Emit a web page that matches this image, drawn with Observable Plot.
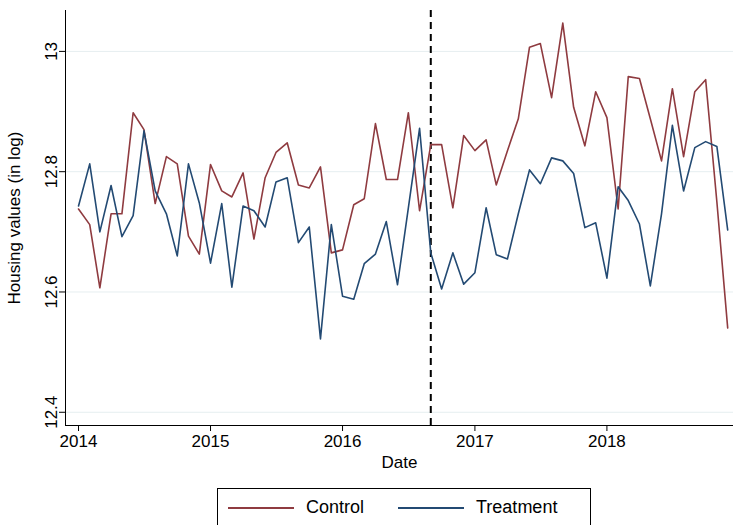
<!DOCTYPE html>
<html><head><meta charset="utf-8">
<script src="https://cdn.jsdelivr.net/npm/d3@7"></script>
<script src="https://cdn.jsdelivr.net/npm/@observablehq/plot@0.6"></script>
<style>
body{margin:0;background:#fff;font-family:"Liberation Sans",Arial,sans-serif;}
#legend{margin:18px 0 0 217px;width:372px;height:37px;border:1px solid #000;border-bottom:none;display:flex;align-items:center;font-size:18px;}
.it{display:flex;align-items:center;margin-left:10px;margin-right:24px}
.sw{width:66px;height:2px;margin-right:12px}
</style></head><body>
<div id="chart"></div>
<div id="legend">
<div class="it"><div class="sw" style="background:#8f3b40"></div>Control</div>
<div class="it"><div class="sw" style="background:#234a73"></div>Treatment</div>
</div>
<script>
const control = [12.738,12.712,12.607,12.73,12.73,12.898,12.87,12.747,12.825,12.813,12.693,12.663,
  12.812,12.768,12.758,12.798,12.688,12.79,12.832,12.848,12.778,12.773,12.808,12.665,
  12.67,12.745,12.755,12.88,12.787,12.787,12.898,12.735,12.845,12.845,12.74,12.86,
  12.835,12.853,12.778,12.835,12.888,13.007,13.013,12.923,13.047,12.907,12.843,12.933,
  12.89,12.738,12.958,12.955,12.888,12.818,12.938,12.825,12.933,12.953,12.75,12.54];
const treatment = [12.743,12.813,12.70,12.777,12.692,12.727,12.868,12.768,12.73,12.66,12.813,12.748,
  12.648,12.747,12.608,12.743,12.735,12.708,12.783,12.79,12.682,12.708,12.522,12.712,
  12.593,12.588,12.647,12.663,12.717,12.612,12.74,12.872,12.665,12.605,12.665,12.613,
  12.632,12.74,12.662,12.655,12.73,12.803,12.78,12.823,12.818,12.797,12.707,12.715,
  12.623,12.775,12.752,12.713,12.61,12.73,12.877,12.768,12.84,12.85,12.842,12.703];
const months = d3.utcMonth.range(new Date(Date.UTC(2014,0,1)), new Date(Date.UTC(2019,0,1)));
const yTicks = [12.4,12.6,12.8,13];
const xTicks = [2014,2015,2016,2017,2018].map(y => new Date(Date.UTC(y,0,1)));
const treatDate = new Date(Date.UTC(2016,8,1));

const rows = [];
months.forEach((m,i) => {
  rows.push({date:m, value:control[i], group:"Control"});
  rows.push({date:m, value:treatment[i], group:"Treatment"});
});

const chart = Plot.plot({
  width: 733, height: 470,
  marginLeft: 65, marginRight: 0, marginTop: 10, marginBottom: 45,
  style: {fontFamily: "Liberation Sans, Arial, sans-serif", fontSize: "17px", color: "#000"},
  x: {type: "utc", domain: [new Date(Date.UTC(2013,10,26)), new Date(Date.UTC(2018,11,17))]},
  y: {domain: [12.378, 13.068]},
  color: {domain: ["Control","Treatment"], range: ["#8f3b40","#234a73"]},
  marks: [
    Plot.gridY(yTicks, {stroke: "#e6eef0", strokeOpacity: 1}),
    Plot.ruleX([treatDate], {strokeDasharray: "7,5", strokeWidth: 2}),
    Plot.lineY(rows, {x: "date", y: "value", stroke: "group", strokeWidth: 1.6}),
    Plot.axisX({ticks: xTicks, tickFormat: d3.utcFormat("%Y"), label: "Date", labelArrow: "none",
      labelAnchor: "center", labelOffset: 42, fontSize: 17, tickSize: 6}),
    Plot.axisY({ticks: yTicks, tickFormat: d => String(d), label: "Housing values (in log)", labelAnchor: "center",
      labelArrow: "none", labelOffset: 58, tickRotate: -90, fontSize: 17, tickSize: 6}),
    Plot.ruleX([new Date(Date.UTC(2013,10,26))]),
    Plot.ruleY([12.378])
  ]
});
d3.select("#chart").append(() => chart);
</script>
</body></html>
